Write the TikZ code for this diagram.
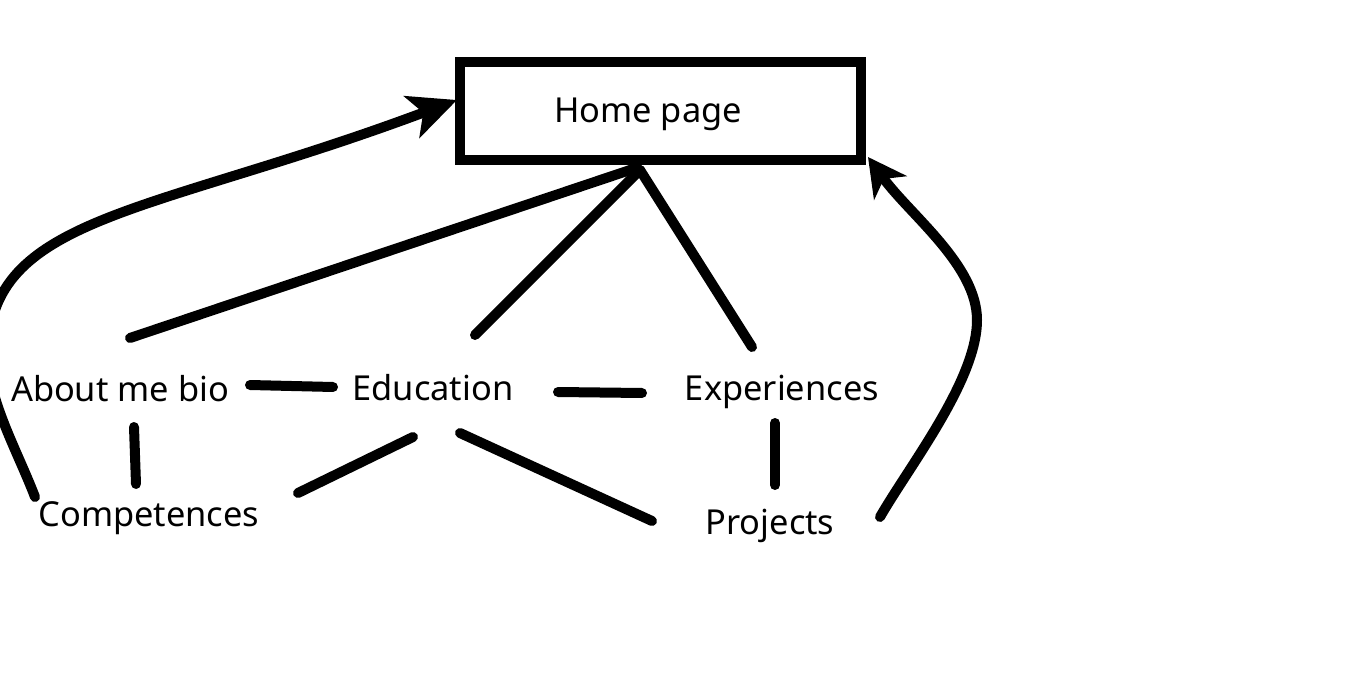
\documentclass[tikz,border=0pt]{standalone}
\usepackage{fontspec}
\setmainfont{Noto Sans}
\usetikzlibrary{arrows.meta}
\begin{document}
\begin{tikzpicture}[x=1pt,y=-1pt,
  every node/.style={font=\fontsize{34.4}{40}\selectfont},
  lbl/.style={anchor=base, inner sep=0pt},
  homebox/.style={draw, line width=10pt, minimum width=401pt, minimum height=98pt, inner sep=0pt, text height=25pt, text depth=1pt},
  link/.style={line width=10pt, line cap=round},
  back/.style={line width=10pt, line cap=round}
]
\useasboundingbox[fill=white] (0,0) rectangle (1350,679);

\node[homebox] (home) at (660.5,111) {\hspace*{-25pt}Home page};
\node[lbl] (about) at (120,401) {About me bio};
\node[lbl] (edu) at (433,400) {Education};
\node[lbl] (exp) at (782,400) {Experiences};
\node[lbl] (comp) at (149,526) {Competences};
\node[lbl] (proj) at (770,534) {Projects};

% links
\draw[link] ([shift={(10,-63)}]about.base) -- ([shift={(-24.5,57)}]home.center);
\draw[link] ([shift={(42,-65)}]edu.base) -- ([shift={(-20.5,59)}]home.center);
\draw[link] ([shift={(-30,-53)}]exp.base) -- ([shift={(-20.5,59)}]home.center);
\draw[link] ([shift={(130,-16)}]about.base) -- ([shift={(-100,-13)}]edu.base);
\draw[link] ([shift={(125,-8)}]edu.base) -- ([shift={(-140,-7)}]exp.base);
\draw[link] ([shift={(14,26)}]about.base) -- ([shift={(-13,-42)}]comp.base);
\draw[link] ([shift={(-20,37)}]edu.base) -- ([shift={(149,-33)}]comp.base);
\draw[link] ([shift={(27,33)}]edu.base) -- ([shift={(-118,-13)}]proj.base);
\draw[link] ([shift={(-7,23)}]exp.base) -- ([shift={(5,-49)}]proj.base);

% return arrows
\draw[back, -{Stealth[length=48pt,width=44pt,inset=12pt]}]
  ([shift={(-114,-29)}]comp.base) .. controls (17,450) and (-12,400) .. (-12,355)
  .. controls (-12,215) and (150,215) .. ([shift={(2,-11)}]home.west);
\draw[back, -{Stealth[length=38pt,width=40pt,inset=11pt]}]
  ([shift={(110,-17)}]proj.base) .. controls (910,465) and (977,380) .. (977,320)
  .. controls (977,265) and (910,215) .. ([shift={(2,-8)}]home.south east);
\end{tikzpicture}
\end{document}
